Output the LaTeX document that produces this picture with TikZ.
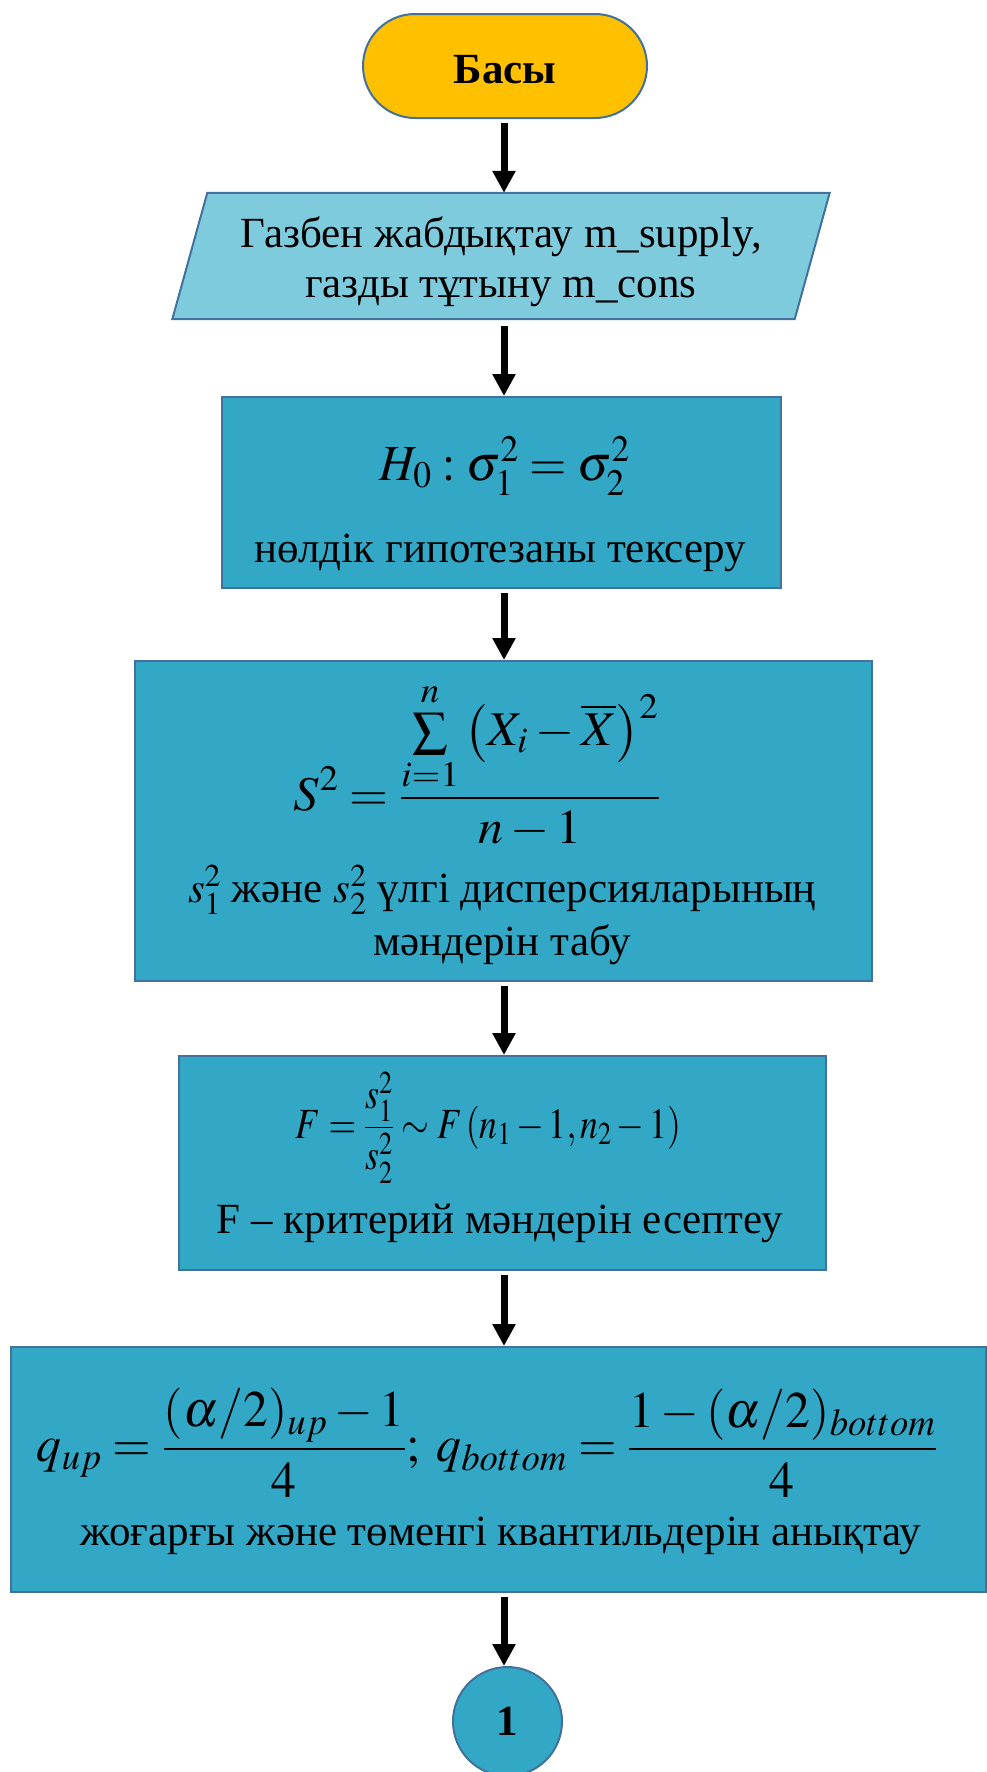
\documentclass[tikz,border=0pt]{standalone}
\usepackage{graphicx}
\usepackage{mathptmx}
\usepackage{fontspec}
\setmainfont{Liberation Serif}
\usetikzlibrary{arrows.meta,backgrounds}
\definecolor{bord}{HTML}{41719C}
\definecolor{gold}{HTML}{FFC000}
\definecolor{inblue}{HTML}{7FCBDE}
\definecolor{boxblue}{HTML}{33A8C6}
\begin{document}
\begin{tikzpicture}[x=1pt,y=-1pt,
  every node/.style={font=\fontsize{43}{50}\selectfont, align=center, inner sep=0pt},
  proc/.style={draw=bord, line width=2pt, fill=boxblue},
  arr/.style={line width=7pt, -{Triangle[width=22pt,length=22pt]}}]
\useasboundingbox (0,0) rectangle (987,1772);
\coordinate (ax) at (504,0);

% start
\node[draw=bord, line width=2pt, fill=gold, rounded corners=52pt,
      minimum width=284pt, minimum height=104pt] (start) at (505,66) {};
\node (startt) at (505,70) {\bfseries Басы};

% input (parallelogram)
\node[minimum width=622pt, minimum height=126pt] (in) at (501,262)
  {Газбен жабдықтау m\_supply,\\газды тұтыну m\_cons};
\begin{scope}[on background layer]
\draw[draw=bord, line width=2pt, fill=inblue]
  ([xshift=17.5pt,yshift=6pt]in.north west) -- ([xshift=17.5pt,yshift=6pt]in.north east)
  -- ([xshift=-17.5pt,yshift=6pt]in.south east) -- ([xshift=-17.5pt,yshift=6pt]in.south west) -- cycle;
\end{scope}

% box 2
\node[proc, minimum width=559pt, minimum height=191pt] (h0) at (501.5,492.5) {};
\node (h0f) at (505,466) {\resizebox*{250pt}{58pt}{$H_0:\sigma_1^2=\sigma_2^2$}};
\node[anchor=base] (h0t) at (500,562) {нөлдік гипотезаны тексеру};

% box 3
\node[proc, minimum width=737pt, minimum height=320pt] (var) at (503.5,821) {};
\node (varf) at (477,765) {\resizebox*{366pt}{165pt}{$\displaystyle S^2=\frac{\sum\limits_{i=1}^{n}\left(X_i-\overline{X}\right)^2}{n-1}$}};
\node[anchor=base] (vart1) at (502,902) {$s_1^2$ және $s_2^2$ үлгі дисперсияларының};
\node[anchor=base] (vart2) at (502,955) {мәндерін табу};

% box 4
\node[proc, minimum width=647pt, minimum height=214pt] (fc) at (502.5,1163) {};
\node (fcf) at (488.5,1127.5) {\resizebox*{385pt}{111pt}{$\displaystyle F=\frac{s_1^2}{s_2^2}\sim F\left(n_1-1,n_2-1\right)$}};
\node[anchor=base] (fct) at (500,1233) {F – критерий мәндерін есептеу};

% box 5
\node[proc, minimum width=975pt, minimum height=245pt] (q) at (498.5,1469.5) {};
\node (qf) at (487,1442.5) {\resizebox*{900pt}{109pt}{$\displaystyle q_{up}=\frac{(\alpha/2)_{up}-1}{4};\; q_{bottom}=\frac{1-(\alpha/2)_{bottom}}{4}$}};
\node[anchor=base] (qt) at (501,1545) {жоғарғы және төменгі квантильдерін анықтау};

% connector circle
\node[circle, draw=bord, line width=2pt, fill=boxblue, minimum size=109pt] (c1) at (507.5,1721.5) {\bfseries 1};

% arrows
\draw[arr] (start.south -| ax) ++(0,4) -- ([yshift=6pt]in.north -| ax);
\draw[arr] ([yshift=6pt]in.south -| ax) ++(0,7) -- (h0.north -| ax);
\draw[arr] (h0.south -| ax) ++(0,4) -- (var.north -| ax);
\draw[arr] (var.south -| ax) ++(0,4) -- (fc.north -| ax);
\draw[arr] (fc.south -| ax) ++(0,4) -- (q.north -| ax);
\draw[arr] (q.south -| ax) ++(0,4) -- (c1.north -| ax);
\end{tikzpicture}
\end{document}
